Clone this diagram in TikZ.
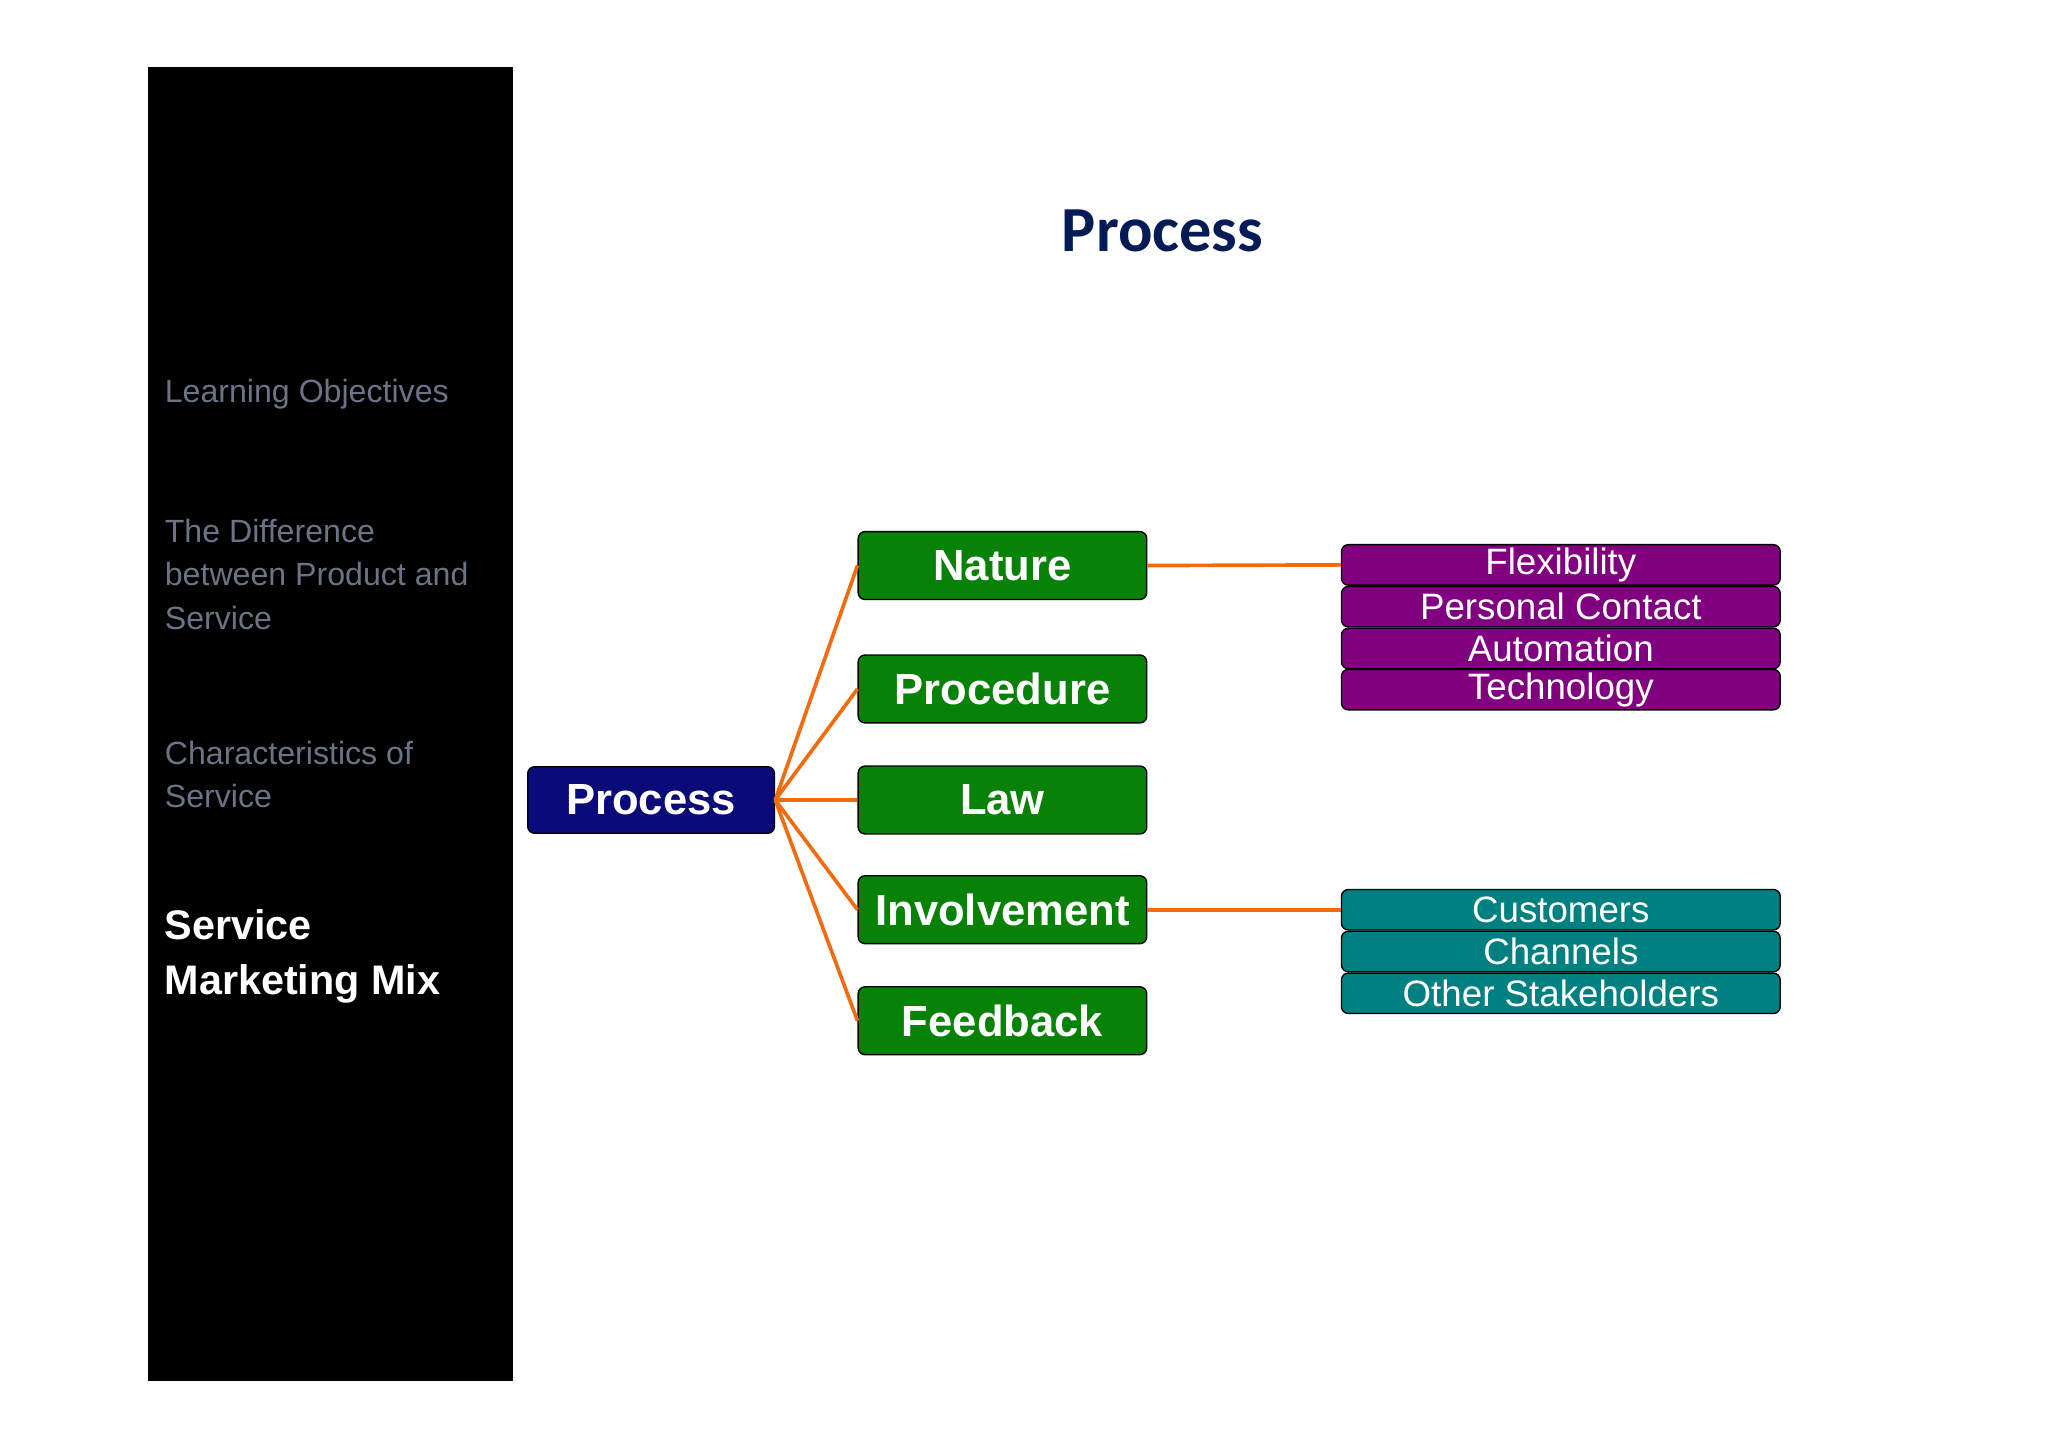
\documentclass[tikz,border=0pt]{standalone}
\usepackage{fontspec}
\setmainfont{Liberation Sans}
\newfontfamily\titlefont{Carlito}
\definecolor{side}{HTML}{041E5E}
\definecolor{navy}{HTML}{0A0A78}
\definecolor{grn}{HTML}{078207}
\definecolor{purp}{HTML}{800080}
\definecolor{teal2}{HTML}{008080}
\definecolor{org}{HTML}{F26B0F}
\definecolor{gtxt}{HTML}{6B7386}
\begin{document}
\begin{tikzpicture}[x=0.02cm,y=-0.02cm,
  box/.style={draw=black,line width=0.6pt,rounded corners=3pt,inner sep=0pt},
  main/.style={box,minimum width=4.42cm,minimum height=1.04cm,fill=grn,text=white,font=\fontsize{19}{22}\selectfont\bfseries},
  sub/.style={box,minimum width=6.72cm,minimum height=0.62cm,text=white,font=\fontsize{16}{18}\selectfont},
  side/.style={anchor=north west,align=left,text=gtxt,font=\fontsize{14}{19}\selectfont},
  link/.style={draw=org,line width=1.6pt}]
\useasboundingbox (0,0) rectangle (1568,1108);
\fill[side] (113,51) rectangle (393,1057);
\node[text=side!90!black,font=\titlefont\fontsize{28}{32}\selectfont\bfseries] (title) at (890,177) {Process};
\node[side] (s1) at (120,284) {Learning Objectives};
\node[side] (s2) at (120,391) {The Difference\\between Product and\\Service};
\node[side] (s3) at (120,561) {Characteristics of\\Service};
\node[side,text=white,font=\fontsize{18}{24}\selectfont\bfseries] (s4) at (120,690) {Service\\Marketing Mix};
\node[box,fill=navy,text=white,minimum width=3.78cm,minimum height=1.02cm,font=\fontsize{19}{22}\selectfont\bfseries] (p) at (498.5,612.5) {Process};
\node[main] (n1) at (767.5,433) {Nature};
\node[main] (n2) at (767.5,527.5) {Procedure};
\node[main] (n3) at (767.5,612.5) {Law};
\node[main] (n4) at (767.5,696.5) {Involvement};
\node[main] (n5) at (767.5,781.5) {Feedback};
\node[sub,fill=purp] (a1) at (1195,432.5) {Flexibility};
\node[sub,fill=purp] (a2) at (1195,464.5) {Personal Contact};
\node[sub,fill=purp] (a3) at (1195,496.5) {Automation};
\node[sub,fill=purp] (a4) at (1195,528) {Technology};
\node[sub,fill=teal2] (b1) at (1195,696.5) {Customers};
\node[sub,fill=teal2] (b2) at (1195,728.5) {Channels};
\node[sub,fill=teal2] (b3) at (1195,760.5) {Other Stakeholders};
\foreach \n in {n1,n2,n3,n4,n5} \draw[link] (p.east) -- (\n.west);
\draw[link] (n1.east) -- (a1.west);
\draw[link] (n4.east) -- (b1.west);
\end{tikzpicture}
\end{document}
